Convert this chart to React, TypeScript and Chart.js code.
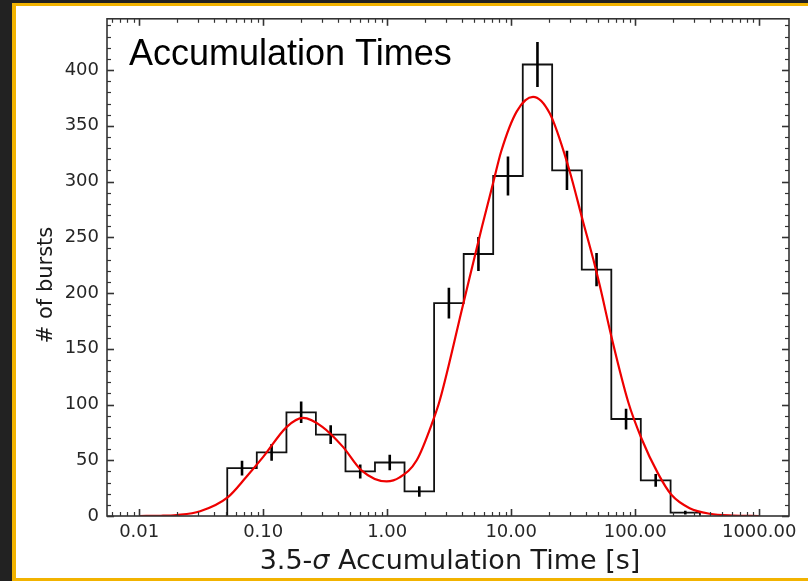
import React, { useEffect, useRef } from 'react';
import { Chart, registerables } from 'chart.js';
Chart.register(...registerables);

// ---- data ----
const binEdges = [0.0513, 0.0888, 0.154, 0.266, 0.461, 0.797, 1.38, 2.39, 4.14, 7.16, 12.4, 21.4, 37.1, 64.2, 111, 193, 333];
const counts = [43, 57, 93, 73, 40, 48, 22, 191, 235, 305, 405, 310, 221, 87, 32, 3];
const countErrors = [6.6, 7.5, 9.6, 8.5, 6.3, 6.9, 4.7, 13.8, 15.3, 17.5, 20.1, 17.6, 14.9, 9.3, 5.7, 1.7];

const fitX = [0.01, 0.015, 0.02, 0.031, 0.052, 0.073, 0.1, 0.155, 0.21, 0.3, 0.44, 0.62, 0.99, 1.26, 1.73, 2.35, 2.66, 4.1, 5.8, 7.2, 8.3, 11.1, 15, 20.5, 28.8, 38, 46, 52, 64.6, 88, 112, 153, 196, 275, 400, 620, 1000];
const fitY = [0, 0.2, 0.9, 4.3, 17, 35, 53, 80, 88, 80, 62, 41, 31, 34.6, 50, 86, 104, 190, 259, 300, 327, 363, 376, 361, 314, 264, 230, 206, 160, 102, 70, 38, 19, 7, 2, 0.4, 0];

const xMajorTicks = [0.01, 0.1, 1, 10, 100, 1000];
const xTickLabels = ['0.01', '0.10', '1.00', '10.00', '100.00', '1000.00'];
const yMajorTicks = [0, 50, 100, 150, 200, 250, 300, 350, 400];
const yTickLabels = ['0', '50', '100', '150', '200', '250', '300', '350', '400'];

const X_MIN = 0.0055;
const X_MAX = 1740;
const Y_MIN = 0;
const Y_MAX = 446;

const titleText = 'Accumulation Times';
const yTitle = '# of bursts';
const xTitleParts = ['3.5-', 'σ', ' Accumulation Time [s]'];

// tick value lists (positions of tick marks)
const xTickValues: number[] = [];
for (let k = -3; k <= 3; k++) {
  for (let m = 1; m <= 9; m++) {
    const v = Number((m * Math.pow(10, k)).toPrecision(6));
    if (v >= X_MIN && v <= X_MAX) xTickValues.push(v);
  }
}
const yTickValues: number[] = [];
for (let v = 0; v <= 440; v += 10) yTickValues.push(v);

const near = (a: number, b: number) => Math.abs(a - b) <= Math.abs(b) * 1e-6;
const xMajorIndex = (v: number) => xMajorTicks.findIndex((t) => near(v, t));
const yMajorIndex = (v: number) => yMajorTicks.findIndex((t) => t === v);

export default function App() {
  const ref = useRef<HTMLCanvasElement>(null);
  useEffect(() => {
    if (!ref.current) return;
    const histPts: { x: number; y: number }[] = [{ x: binEdges[0], y: 0 }];
    counts.forEach((c, i) => {
      histPts.push({ x: binEdges[i], y: c });
      histPts.push({ x: binEdges[i + 1], y: c });
    });
    histPts.push({ x: binEdges[binEdges.length - 1], y: 0 });

    const errPts: { x: number; y: number | null }[] = [];
    counts.forEach((c, i) => {
      const xc = Math.sqrt(binEdges[i] * binEdges[i + 1]);
      errPts.push({ x: xc, y: c - countErrors[i] });
      errPts.push({ x: xc, y: c + countErrors[i] });
      errPts.push({ x: xc, y: null });
    });

    const fitPts = fitX.map((x, i) => ({ x, y: fitY[i] }));

    const decor = {
      id: 'decor',
      afterDraw(chart: any) {
        const { ctx, chartArea: a, scales } = chart;
        const xs = scales.x;
        const ys = scales.y;
        ctx.save();
        ctx.strokeStyle = '#333';
        const line = (x1: number, y1: number, x2: number, y2: number) => {
          ctx.beginPath();
          ctx.moveTo(x1, y1);
          ctx.lineTo(x2, y2);
          ctx.stroke();
        };
        xs.ticks.forEach((t: any) => {
          const px = Math.round(xs.getPixelForValue(t.value)) + 0.5;
          const major = xMajorIndex(t.value) >= 0;
          const len = major ? 7 : 4;
          ctx.lineWidth = major ? 1.6 : 1.2;
          line(px, a.bottom, px, a.bottom - len);
          line(px, a.top, px, a.top + len);
        });
        ys.ticks.forEach((t: any) => {
          const py = Math.round(ys.getPixelForValue(t.value)) + 0.5;
          const major = yMajorIndex(t.value) >= 0;
          const len = major ? 7 : 4;
          ctx.lineWidth = major ? 1.6 : 1.2;
          line(a.left, py, a.left + len, py);
          line(a.right, py, a.right - len, py);
        });
        ctx.lineWidth = 1.6;
        ctx.strokeRect(a.left, a.top, a.right - a.left, a.bottom - a.top);

        // title inside the plot
        ctx.fillStyle = '#000';
        ctx.font = '36px "Liberation Sans", Arial, sans-serif';
        ctx.textAlign = 'left';
        ctx.textBaseline = 'alphabetic';
        ctx.fillText(titleText, 129, 65);

        // x title with italic sigma
        ctx.fillStyle = '#1a1a1a';
        const fN = '27px "DejaVu Sans"';
        const fI = 'italic 27px "DejaVu Sans"';
        const fonts = [fN, fI, fN];
        let total = 0;
        const widths = xTitleParts.map((p, i) => {
          ctx.font = fonts[i];
          const w = ctx.measureText(p).width;
          total += w;
          return w;
        });
        let cx = (a.left + a.right) / 2 + 2 - total / 2;
        xTitleParts.forEach((p, i) => {
          ctx.font = fonts[i];
          ctx.fillText(p, cx, 569);
          cx += widths[i];
        });

        // y title
        ctx.save();
        ctx.translate(52, 285);
        ctx.rotate(-Math.PI / 2);
        ctx.font = '21px "DejaVu Sans"';
        ctx.textAlign = 'center';
        ctx.fillText(yTitle, 0, 0);
        ctx.restore();
        ctx.restore();
      },
    };

    const chart = new Chart(ref.current, {
      type: 'line',
      data: {
        datasets: [
          {
            label: 'fit',
            data: fitPts,
            borderColor: '#ee0000',
            borderWidth: 2.2,
            pointRadius: 0,
            cubicInterpolationMode: 'monotone',
            fill: false,
          },
          {
            label: 'errors',
            data: errPts as any,
            borderColor: '#000',
            borderWidth: 2.6,
            pointRadius: 0,
            spanGaps: false,
            fill: false,
          },
          {
            label: 'hist',
            data: histPts,
            borderColor: '#111',
            borderWidth: 1.8,
            pointRadius: 0,
            tension: 0,
            fill: false,
          },
        ],
      },
      options: {
        responsive: false,
        animation: false,
        events: [],
        layout: { padding: { left: 0, top: 17, right: 19, bottom: 0 } },
        plugins: { legend: { display: false }, tooltip: { enabled: false }, title: { display: false } },
        scales: {
          x: {
            type: 'logarithmic',
            min: X_MIN,
            max: X_MAX,
            grid: { display: false, drawTicks: false },
            border: { display: false },
            afterBuildTicks: (s: any) => {
              s.ticks = xTickValues.map((v) => ({ value: v }));
            },
            afterFit: (s: any) => {
              s.height = 65;
            },
            ticks: {
              autoSkip: false,
              maxRotation: 0,
              minRotation: 0,
              padding: 6,
              color: '#262626',
              font: { family: 'DejaVu Sans', size: 18 },
              callback: (v: any) => {
                const i = xMajorIndex(Number(v));
                return i >= 0 ? xTickLabels[i] : '';
              },
            },
          },
          y: {
            type: 'linear',
            min: Y_MIN,
            max: Y_MAX,
            grid: { display: false, drawTicks: false },
            border: { display: false },
            afterBuildTicks: (s: any) => {
              s.ticks = yTickValues.map((v) => ({ value: v }));
            },
            afterFit: (s: any) => {
              s.width = 107;
            },
            ticks: {
              autoSkip: false,
              padding: 8,
              color: '#262626',
              font: { family: 'DejaVu Sans', size: 18 },
              callback: (v: any) => {
                const i = yMajorIndex(Number(v));
                return i >= 0 ? yTickLabels[i] : '';
              },
            },
          },
        },
      },
      plugins: [decor],
    } as any);
    return () => chart.destroy();
  }, []);

  return (
    <div style={{ position: 'fixed', left: 0, top: 0, width: 808, height: 581, background: '#222', overflow: 'hidden' }}>
      <div
        style={{
          position: 'absolute',
          left: 12,
          top: 3,
          width: 830,
          height: 578,
          boxSizing: 'border-box',
          borderStyle: 'solid',
          borderColor: '#f2b300',
          borderWidth: '3px 4px 3px 4px',
          background: '#fff',
        }}
      />
      <canvas ref={ref} width={808} height={581} style={{ position: 'absolute', left: 0, top: 0 }} />
    </div>
  );
}
